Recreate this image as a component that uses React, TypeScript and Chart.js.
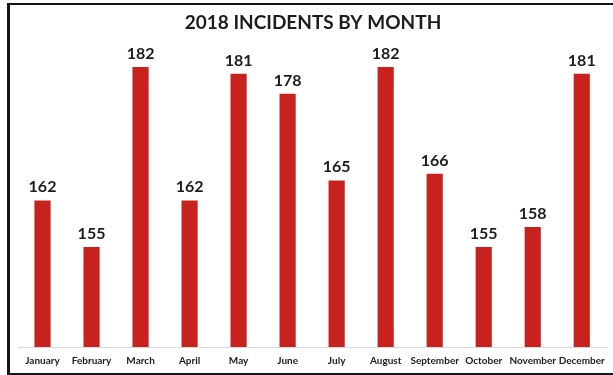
import React, { useEffect, useRef } from "react";
import { Chart, registerables } from "chart.js";

Chart.register(...registerables);

const months = ["January", "February", "March", "April", "May", "June", "July", "August", "September", "October", "November", "December"];
const incidents = [162, 155, 182, 162, 181, 178, 165, 182, 166, 155, 158, 181];
const titleText = "2018 INCIDENTS BY MONTH";

const valueLabels = {
  id: "valueLabels",
  afterDatasetsDraw(chart: any) {
    const ctx = chart.ctx;
    const meta = chart.getDatasetMeta(0);
    ctx.save();
    ctx.font = "bold 16px Lato";
    ctx.fillStyle = "#1c1c1c";
    ctx.textAlign = "center";
    ctx.textBaseline = "alphabetic";
    meta.data.forEach((bar: any, i: number) => {
      ctx.fillText(String(incidents[i]), bar.x, bar.y - 8);
    });
    ctx.restore();
  },
};

export default function App() {
  const ref = useRef<HTMLCanvasElement | null>(null);
  useEffect(() => {
    if (!ref.current) return;
    const chart = new Chart(ref.current, {
      type: "bar",
      data: {
        labels: months,
        datasets: [
          {
            data: incidents,
            backgroundColor: "#c8221f",
            categoryPercentage: 1,
            barPercentage: 0.33,
          },
        ],
      },
      options: {
        animation: false,
        responsive: false,
        layout: { padding: { left: 18, right: 5, top: 0, bottom: 0 } },
        plugins: {
          legend: { display: false },
          tooltip: { enabled: false },
          title: {
            display: true,
            text: titleText,
            color: "#1c1c1c",
            font: { family: "Lato", size: 19, weight: "bold" },
            padding: { top: 11, bottom: 10 },
          },
        },
        scales: {
          x: {
            grid: { display: false, drawTicks: false },
            border: { display: true, color: "#d9d9d9", width: 1 },
            ticks: {
              color: "#1c1c1c",
              font: { family: "Lato", size: 10, weight: "bold" },
              padding: 8,
              maxRotation: 0,
              autoSkip: false,
            },
          },
          y: {
            display: false,
            min: 140,
            max: 185.5,
          },
        },
      },
      plugins: [valueLabels],
    });
    return () => chart.destroy();
  }, []);
  return (
    <div style={{ position: "fixed", left: 0, top: 0, width: 613, height: 375, background: "#fff", overflow: "hidden" }}>
      <div
        style={{
          position: "absolute",
          left: 7,
          top: 3,
          width: 620,
          height: 368,
          borderLeft: "3px solid #151515",
          borderTop: "2px solid #151515",
          borderBottom: "2px solid #151515",
        }}
      />
      <canvas ref={ref} width={613} height={375} style={{ position: "absolute", left: 0, top: 0 }} />
    </div>
  );
}
